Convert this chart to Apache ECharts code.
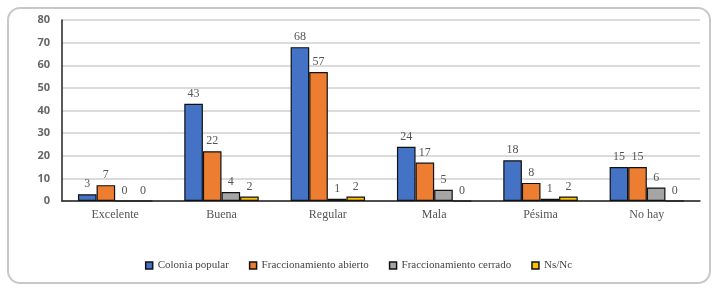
<!DOCTYPE html>
<html>
<head>
<meta charset="utf-8">
<script src="https://cdn.jsdelivr.net/npm/echarts@6/dist/echarts.min.js"></script>
<style>
  html, body { margin: 0; padding: 0; background: #fff; }
  #chart { width: 717px; height: 290px; }
</style>
</head>
<body>
<div id="chart"></div>
<script>
const categories = ['Excelente', 'Buena', 'Regular', 'Mala', 'Pésima', 'No hay'];
const coloniaPopular = [3, 43, 68, 24, 18, 15];
const fraccAbierto = [7, 22, 57, 17, 8, 15];
const fraccCerrado = [0, 4, 1, 5, 1, 6];
const nsNc = [0, 2, 2, 0, 2, 0];
const seriesNames = ['Colonia popular', 'Fraccionamiento abierto', 'Fraccionamiento cerrado', 'Ns/Nc'];
const colors = ['#4472C4', '#ED7D31', '#A5A5A5', '#FFC000'];

const serif = '"Liberation Serif", "DejaVu Serif", serif';

function bar(name, data, color) {
  return {
    name: name,
    type: 'bar',
    data: data,
    barGap: '0%',
    barCategoryGap: '30%',
    itemStyle: { color: color, borderColor: '#111', borderWidth: 1.2 },
    label: {
      show: true,
      position: 'top',
      distance: 4,
      color: '#555',
      fontFamily: serif,
      fontSize: 12
    }
  };
}

const chart = echarts.init(document.getElementById('chart'));
chart.setOption({
  animation: false,
  graphic: [{
    type: 'rect',
    shape: { x: 8, y: 8, width: 702, height: 275, r: 12 },
    style: { fill: 'none', stroke: '#c8c8c8', lineWidth: 2 },
    silent: true
  }],
  grid: { left: 62, right: 17, top: 20, bottom: 89 },
  legend: {
    bottom: 14,
    left: 'center',
    icon: 'rect',
    itemWidth: 7,
    itemHeight: 7,
    itemGap: 20,
    textStyle: { fontFamily: serif, fontSize: 11, color: '#444' },
    itemStyle: { borderColor: '#111', borderWidth: 1.5 },
    data: seriesNames
  },
  xAxis: {
    type: 'category',
    data: categories,
    axisLine: { lineStyle: { color: '#222', width: 1.5 } },
    axisTick: { show: false },
    axisLabel: { fontFamily: serif, fontSize: 12, color: '#555', margin: 8 }
  },
  yAxis: {
    type: 'value',
    min: 0,
    max: 80,
    interval: 10,
    axisLine: { show: true, lineStyle: { color: '#222', width: 1.5 } },
    axisTick: { show: false },
    splitLine: { lineStyle: { color: '#cfcfcf', width: 1.5 } },
    axisLabel: { fontFamily: '"Open Sans", sans-serif', fontWeight: 'bold', fontSize: 11, color: '#666', margin: 12 }
  },
  series: [
    bar(seriesNames[0], coloniaPopular, colors[0]),
    bar(seriesNames[1], fraccAbierto, colors[1]),
    bar(seriesNames[2], fraccCerrado, colors[2]),
    bar(seriesNames[3], nsNc, colors[3])
  ]
});
</script>
</body>
</html>
